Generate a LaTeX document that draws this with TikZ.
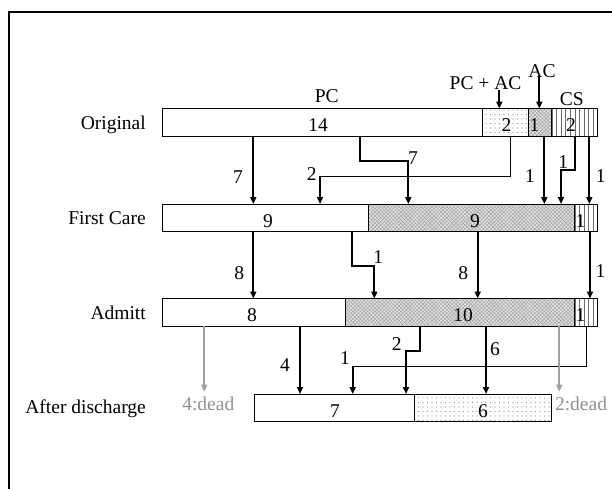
\documentclass[tikz,border=0pt]{standalone}
\usepackage{fontspec}
\setmainfont{Liberation Serif}
\usetikzlibrary{arrows.meta,patterns,patterns.meta}
\definecolor{deadgray}{RGB}{160,160,160}
\definecolor{deadtext}{RGB}{145,145,145}
\begin{document}
\begin{tikzpicture}[x=1pt,y=-1pt,
  font=\fontsize{19.5}{22}\selectfont,
  seg/.style={draw=black,line width=0.9pt,anchor=north west,minimum height=27.5pt,inner sep=0pt,outer sep=0pt},
  plain/.style={seg,fill=white},
  dotseg/.style={seg,pattern={Dots[distance=4.5pt,radius=0.6pt]},pattern color=gray!85},
  hatchseg/.style={seg,preaction={fill=gray!22},pattern={Hatch[angle=45,distance=2.6pt,line width=0.45pt]},pattern color=gray!75},
  vlseg/.style={seg,pattern={Lines[angle=90,distance=4.6pt,line width=0.7pt]},pattern color=gray!85!black},
  lab/.style={anchor=base,inner sep=0pt},
  rowlab/.style={anchor=base east,inner sep=0pt},
  thk/.style={line width=1.8pt,-{Triangle[length=7pt,width=6pt]}},
  thn/.style={line width=0.8pt},
  dead/.style={draw=deadgray,line width=1.8pt,-{Triangle[length=7pt,width=6pt]}},
  deadlab/.style={lab,text=deadtext}]
\useasboundingbox (0,0) rectangle (612,488);
\clip (0,0) rectangle (612,488);
\draw[line width=1.7pt] (9,12) rectangle (680,560);

% row labels
\node[rowlab] (rO) at (146,129.5) {Original};
\node[rowlab] (rF) at (146,224.3) {First Care};
\node[rowlab] (rA) at (146,319) {Admitt};
\node[rowlab] (rD) at (146,413.3) {After discharge};

% Original bar
\node[plain,minimum width=320.2pt] (o1) at (162.7,108.5) {};
\node[dotseg,minimum width=45.7pt] (o2) at (482.9,108.5) {};
\node[hatchseg,minimum width=22.9pt] (o3) at (528.6,108.5) {};
\node[vlseg,minimum width=45.8pt] (o4) at (551.5,108.5) {};
% First care bar
\node[plain,minimum width=205.8pt] (f1) at (162.7,204) {};
\node[hatchseg,minimum width=205.8pt] (f2) at (368.5,204) {};
\node[vlseg,minimum width=23pt] (f3) at (574.3,204) {};
% Admitt bar
\node[plain,minimum width=183pt] (a1) at (162.7,298.5) {};
\node[hatchseg,minimum width=228.7pt] (a2) at (345.7,298.5) {};
\node[vlseg,minimum width=22.9pt] (a3) at (574.4,298.5) {};
% After discharge bar
\node[plain,minimum width=160.1pt] (d1) at (254.3,394) {};
\node[dotseg,minimum width=137.2pt] (d2) at (414.4,394) {};

% numbers in bars
\node[lab] (n1) at (318,131.5) {14};
\node[lab] (n2) at (506.5,131.5) {2};
\node[lab] (n3) at (534.5,131.5) {1};
\node[lab] (n4) at (571,131.5) {2};
\node[lab] (n5) at (268,227) {9};
\node[lab] (n6) at (475,227) {9};
\node[lab] (n7) at (580.5,227) {1};
\node[lab] (n8) at (252,321.5) {8};
\node[lab] (n9) at (463,321.5) {10};
\node[lab] (n10) at (580.5,321.5) {1};
\node[lab] (n11) at (335,417) {7};
\node[lab] (n12) at (483,417) {6};

% top labels
\node[lab] (tPC) at (326.7,102.7) {PC};
\node[lab] (tPA) at (485.5,89.5) {PC + AC};
\node[lab] (tAC) at (542,77) {AC};
\node[lab] (tCS) at (571.7,105) {CS};
\draw[thk] (tPA.south -| 499.3,0) -- (o2.north -| 499.3,0);
\draw[thk] (tAC.south -| 539.3,0) -- (o3.north -| 539.3,0);

% Original -> First Care
\draw[thk] (o1.south -| 253.3,0) -- (f1.north -| 253.3,0);
\node[lab] (e1) at (238,183.3) {7};
\coordinate (k1) at (408.3,160.7);
\draw[thk] (o1.south -| 360,0) |- (k1) -- (f2.north -| k1);
\node[lab] (e2) at (413,164) {7};
\coordinate (k2) at (320,176);
\draw[thn] (o2.south -| 510,0) |- (k2);
\draw[thk] (k2) -- (f1.north -| k2);
\node[lab] (e3) at (311.7,180.7) {2};
\draw[thk] (o3.south -| 544.3,0) -- (f2.north -| 544.3,0);
\node[lab] (e4) at (530,182.7) {1};
\coordinate (k3) at (561,170);
\draw[thk] (o4.south -| 575,0) |- (k3) -- (f2.north -| k3);
\node[lab] (e5) at (563.3,168.3) {1};
\draw[thk] (o4.south -| 589.3,0) -- (f3.north -| 589.3,0);
\node[lab] (e6) at (600.7,182.7) {1};

% First Care -> Admitt
\draw[thk] (f1.south -| 253.3,0) -- (a1.north -| 253.3,0);
\node[lab] (g1) at (239.3,279.3) {8};
\coordinate (k4) at (374.3,265.7);
\draw[thk] (f1.south -| 351.7,0) |- (k4) -- (a2.north -| k4);
\node[lab] (g2) at (378.3,263.3) {1};
\draw[thk] (f2.south -| 477.7,0) -- (a2.north -| 477.7,0);
\node[lab] (g3) at (463.3,279.3) {8};
\draw[thk] (f3.south -| 590,0) -- (a3.north -| 590,0);
\node[lab] (g4) at (600.5,277) {1};

% Admitt -> After discharge
\coordinate (x1) at (204.3,391.7);
\draw[dead] (a1.south -| x1) -- (x1);
\node[deadlab] (dd1) at (208.3,410) {4:dead};
\draw[thk] (a1.south -| 300,0) -- (d1.north -| 300,0);
\node[lab] (h1) at (285,371.7) {4};
\coordinate (k5) at (406,350.7);
\draw[thk] (a2.south -| 420,0) |- (k5) -- (d1.north -| k5);
\node[lab] (h2) at (396.7,350.7) {2};
\coordinate (k6) at (352.7,366);
\draw[thn] (a3.south -| 586.7,0) |- (k6);
\draw[thk] (k6) -- (d1.north -| k6);
\node[lab] (h3) at (345,364) {1};
\draw[thk] (a2.south -| 486,0) -- (d2.north -| 486,0);
\node[lab] (h4) at (495,355) {6};
\coordinate (x2) at (559.3,391.7);
\draw[dead] (a3.south -| x2) -- (x2);
\node[deadlab] (dd2) at (581,410) {2:dead};
\end{tikzpicture}
\end{document}
